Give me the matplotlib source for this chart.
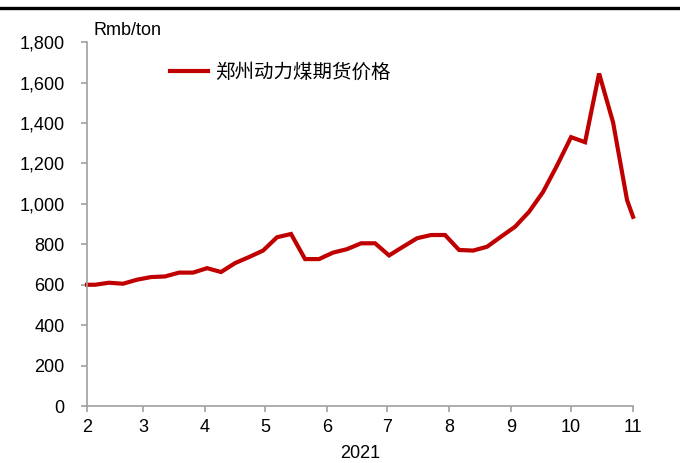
import numpy as np
import pandas as pd
import matplotlib
matplotlib.use("Agg")
import matplotlib.pyplot as plt
import matplotlib.dates as mdates
from matplotlib.lines import Line2D
from matplotlib.ticker import FuncFormatter

plt.rcParams['font.family'] = ['Liberation Sans', 'Noto Sans CJK SC', 'DejaVu Sans']

# Zhengzhou thermal coal futures, weekly, 2021 (Rmb/ton)
dates = ["2021-02-01", "2021-02-05", "2021-02-12", "2021-02-19", "2021-02-26",
         "2021-03-05", "2021-03-12", "2021-03-19", "2021-03-26", "2021-04-02",
         "2021-04-09", "2021-04-16", "2021-04-23", "2021-04-30", "2021-05-07",
         "2021-05-14", "2021-05-21", "2021-05-28", "2021-06-04", "2021-06-11",
         "2021-06-18", "2021-06-25", "2021-07-02", "2021-07-09", "2021-07-16",
         "2021-07-23", "2021-07-30", "2021-08-06", "2021-08-13", "2021-08-20",
         "2021-08-27", "2021-09-03", "2021-09-10", "2021-09-17", "2021-09-24",
         "2021-10-01", "2021-10-08", "2021-10-15", "2021-10-22", "2021-10-29",
         "2021-11-01"]
prices = [600, 600, 610, 605, 625,
          638, 641, 660, 660, 682,
          663, 707, 737, 769, 835,
          851, 727, 727, 759, 776,
          805, 805, 745, 788, 830,
          846, 846, 772, 769, 788,
          838, 887, 961, 1059, 1190,
          1330, 1305, 1645, 1403, 1018,
          936]
series_name = "郑州动力煤期货价格"
unit = "Rmb/ton"
year_label = "2021"

x = pd.to_datetime(dates)
red = "#c00000"
grey = "#a0a0a0"

fig = plt.figure(figsize=(6.8, 4.63), dpi=100)
ax = fig.add_axes([0.128, 0.123, 0.803, 0.786])

ax.plot(x, prices, color=red, lw=3.0, solid_joinstyle="miter", clip_on=False)

ax.set_xlim(pd.Timestamp("2021-02-01"), pd.Timestamp("2021-11-01"))
ax.set_ylim(0, 1800)
ax.set_yticks(np.arange(0, 1801, 200))
ax.yaxis.set_major_formatter(FuncFormatter(lambda v, p: f"{int(v):,}"))

ax.xaxis.set_major_locator(mdates.MonthLocator())
ax.xaxis.set_major_formatter(FuncFormatter(lambda v, p: str(mdates.num2date(v).month)))

for side in ["top", "right"]:
    ax.spines[side].set_visible(False)
for side in ["left", "bottom"]:
    ax.spines[side].set_color(grey)
    ax.spines[side].set_linewidth(1.2)

ax.tick_params(axis="both", colors=grey, labelcolor="black", labelsize=13,
               length=4, width=1.2, direction="out")
ax.tick_params(axis="y", pad=12)
ax.tick_params(axis="x", pad=5)

ax.set_xlabel(year_label, fontsize=13, labelpad=7)
fig.text(0.138, 0.935, unit, fontsize=13, ha="left", va="center")

handle = Line2D([], [], color=red, lw=3.0)
leg = ax.legend([handle], [series_name], loc="upper left",
                bbox_to_anchor=(0.12, 0.995), frameon=False,
                handlelength=1.95, handletextpad=0.35,
                prop={"family": ["Noto Sans CJK SC"], "size": 14})

# thin rule across the top of the figure
fig.add_artist(Line2D([0, 1], [0.982, 0.982], transform=fig.transFigure,
                      color="black", lw=2.4))

fig.savefig("out.png", dpi=100)
